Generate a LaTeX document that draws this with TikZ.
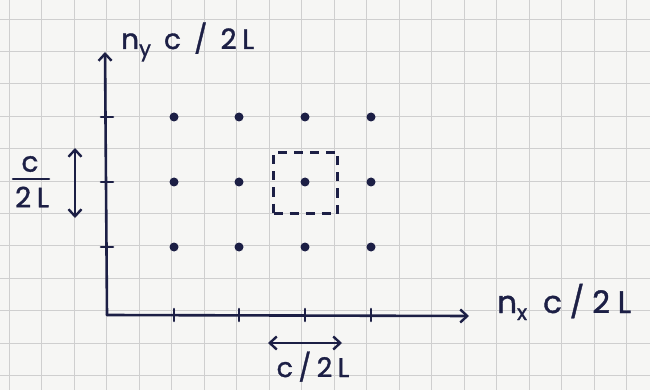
\documentclass[tikz,border=0pt]{standalone}
\usepackage{fontspec}
\setmainfont{Poppins}
\usetikzlibrary{arrows.meta}
\definecolor{ink}{HTML}{1C1F45}
\definecolor{paper}{HTML}{F6F6F4}
\definecolor{gridc}{HTML}{CFCFCF}
\newcommand{\lowsub}[1]{\raisebox{-7pt}{\fontsize{21}{21}\selectfont #1}}
\newcommand{\handfont}[2]{\fontsize{#1}{#1}\selectfont\addfontfeatures{LetterSpace=#2,FakeBold=1.2}}
\begin{document}
\begin{tikzpicture}[x=1pt,y=-1pt,
  gridline/.style={gridc,line width=0.9pt},
  axis/.style={ink,line width=2.6pt,line cap=round},
  tip/.style={-{Straight Barb[length=7pt,width=13pt,line width=2.4pt]}},
  dtip/.style={{Straight Barb[length=7pt,width=13pt,line width=2.4pt]}-{Straight Barb[length=7pt,width=13pt,line width=2.4pt]}},
  dot/.style={circle,fill=ink,inner sep=0pt,minimum size=9pt},
  lab/.style={text=ink,inner sep=0pt},
  cellbox/.style={draw=ink,line width=2.6pt,dash pattern=on 9pt off 7pt,minimum width=64pt,minimum height=61pt,inner sep=0pt}]
\fill[paper] (0,0) rectangle (650,390);
\useasboundingbox (0,0) rectangle (650,390);
% graph paper
\foreach \i in {0,...,19} \draw[gridline] ({9+32.5*\i},0) -- ({9+32.5*\i},390);
\foreach \j in {0,...,11} \draw[gridline] (0,{19+32.4*\j}) -- (650,{19+32.4*\j});
% axes
\coordinate (O) at (107,315);
\coordinate (ytop) at (105,52);
\coordinate (xend) at (469,316);
\draw[axis,tip] (O) -- (ytop);
\draw[axis,tip] (O) -- (xend);
\foreach \y in {117,182,247} \draw[axis] (101,\y) -- (113,\y);
\foreach \x in {174,239,305,371} \draw[axis] (\x,309) -- (\x,321);
% lattice points
\foreach \x/\c in {174/1,239/2,305/3,371/4}
  \foreach \y/\r in {117/1,182/2,247/3}
    \node[dot] (d\c\r) at (\x,\y) {};
% dashed cell
\node[cellbox] (cell) at (305.5,183) {};
% axis labels
\node[lab,font=\handfont{28}{20},anchor=base west] (ylab) at (121,49) {n\lowsub{y} c / 2L};
\node[lab,font=\handfont{31}{25},anchor=base west] (xlab) at (497,313) {n\lowsub{x} c/2L};
% vertical spacing marker
\coordinate (va) at (75,148);
\coordinate (vb) at (75,218);
\draw[axis,dtip] (va) -- (vb);
\node[lab,font=\handfont{28}{0}] (fc) at (30,164) {c};
\node[lab,font=\handfont{28}{20}] (f2l) at (32,197) {2L};
\draw[axis] (13,179) -- (49,179);
% horizontal spacing marker
\coordinate (ha) at (268,343);
\coordinate (hb) at (342,343);
\draw[axis,dtip] (ha) -- (hb);
\node[lab,font=\handfont{27}{20},anchor=base] (hlab) at (313,377) {c/2L};
\end{tikzpicture}
\end{document}
